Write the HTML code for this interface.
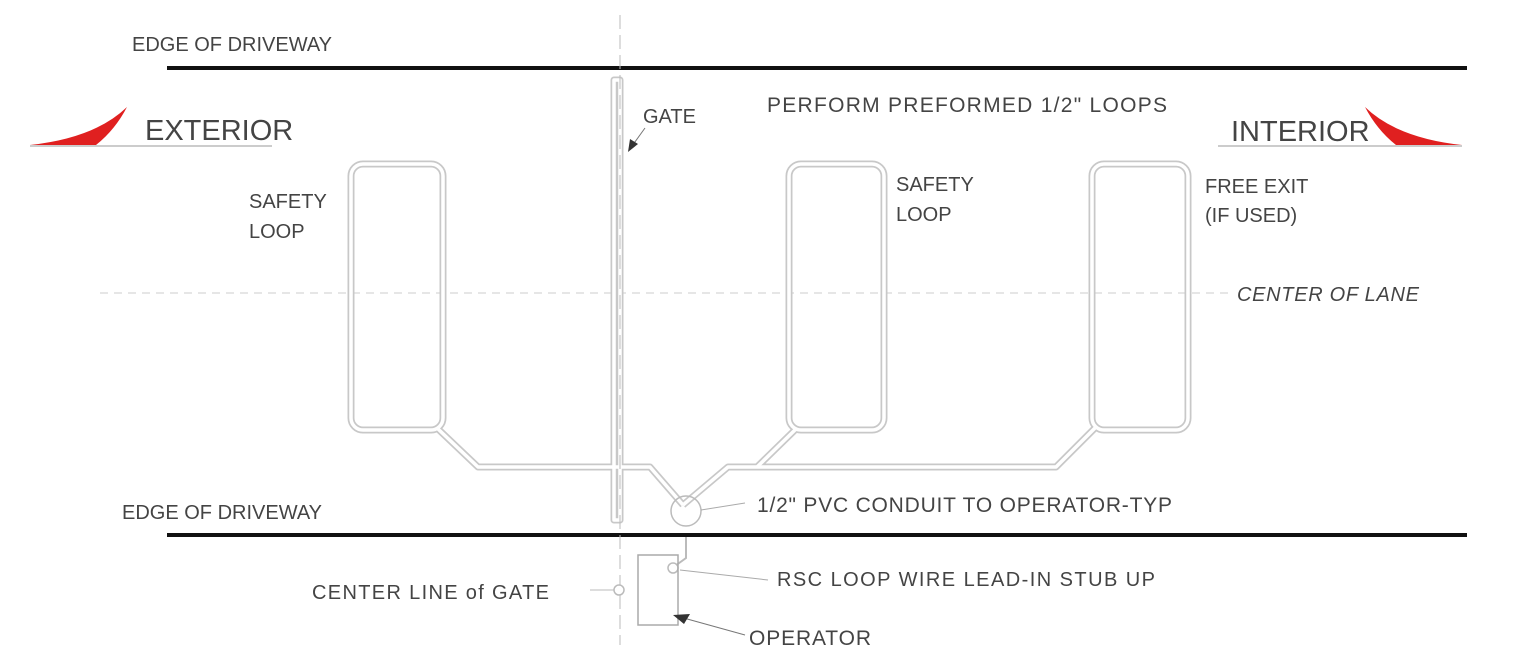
<!DOCTYPE html>
<html><head><meta charset="utf-8"><style>
html,body{margin:0;padding:0;background:#fff;}
svg{display:block;}
text{font-family:"Liberation Sans",sans-serif;fill:#444;}
</style></head><body>
<svg width="1534" height="660" viewBox="0 0 1534 660" xmlns="http://www.w3.org/2000/svg">
<line x1="620" y1="15" x2="620" y2="645" stroke="#bbb" stroke-width="1" stroke-dasharray="14,6"/>
<line x1="100" y1="293" x2="1230" y2="293" stroke="#ccc" stroke-width="1" stroke-dasharray="8,6"/>
<line x1="167" y1="68" x2="1467" y2="68" stroke="#111" stroke-width="4"/>
<line x1="167" y1="535" x2="1467" y2="535" stroke="#111" stroke-width="4"/>
<g fill="none" stroke-linejoin="round">
<g stroke="#c8c8c8" stroke-width="7">
<rect x="351" y="164" width="92" height="266" rx="12"/>
<rect x="789" y="164" width="95" height="266" rx="12"/>
<rect x="1092" y="164" width="96" height="266" rx="12"/>
<polyline points="437,428 478,467 650,467 683,505"/>
<polyline points="1095,428 1056,467 728,467 683,505"/>
<polyline points="797,428 757,467"/>
<rect x="614" y="80" width="6" height="440"/>
</g>
<g stroke="#fff" stroke-width="3.5">
<rect x="351" y="164" width="92" height="266" rx="12"/>
<rect x="789" y="164" width="95" height="266" rx="12"/>
<rect x="1092" y="164" width="96" height="266" rx="12"/>
<polyline points="437,428 478,467 650,467 683,505"/>
<polyline points="1095,428 1056,467 728,467 683,505"/>
<polyline points="797,428 757,467"/>
<rect x="614" y="80" width="6" height="440"/>
</g>
</g>
<line x1="620" y1="15" x2="620" y2="645" stroke="#bbb" stroke-width="1" stroke-dasharray="14,6"/>
<circle cx="686" cy="511" r="15" fill="none" stroke="#bbb" stroke-width="1.5"/>
<polyline points="686,537 686,558 675,566" fill="none" stroke="#bbb" stroke-width="2"/>
<circle cx="673" cy="568" r="5" fill="#fff" stroke="#bbb" stroke-width="1.5"/>
<rect x="638" y="555" width="40" height="70" fill="none" stroke="#aaa" stroke-width="1.5"/>
<circle cx="619" cy="590" r="5" fill="#fff" stroke="#bbb" stroke-width="1.5"/>
<line x1="590" y1="590" x2="614" y2="590" stroke="#bbb"/>
<line x1="701" y1="510" x2="745" y2="503" stroke="#aaa"/>
<line x1="680" y1="570" x2="768" y2="580" stroke="#aaa"/>
<line x1="745" y1="635" x2="680" y2="617" stroke="#777"/>
<polygon points="673,615 690,614 684,624" fill="#333"/>
<line x1="645" y1="128" x2="632" y2="146" stroke="#777"/>
<polygon points="628,152 630,139 638,144" fill="#333"/>
<path d="M30,145 Q95,138 127,107 Q115,130 96,145 Z" fill="#e02020"/>
<path d="M1462,145 Q1397,138 1365,107 Q1377,130 1396,145 Z" fill="#e02020"/>
<line x1="30" y1="146" x2="272" y2="146" stroke="#ccc" stroke-width="2"/>
<line x1="1218" y1="146" x2="1462" y2="146" stroke="#ccc" stroke-width="2"/>
<text x="132" y="51" font-size="20">EDGE OF DRIVEWAY</text>
<text x="122" y="519" font-size="20">EDGE OF DRIVEWAY</text>
<text x="145" y="140" font-size="29">EXTERIOR</text>
<text x="1231" y="141" font-size="29">INTERIOR</text>
<text x="643" y="123" font-size="20">GATE</text>
<text x="767" y="112" font-size="21" textLength="400" lengthAdjust="spacing">PERFORM PREFORMED  1/2"  LOOPS</text>
<text x="249" y="208" font-size="20">SAFETY</text>
<text x="249" y="238" font-size="20">LOOP</text>
<text x="896" y="191" font-size="20">SAFETY</text>
<text x="896" y="221" font-size="20">LOOP</text>
<text x="1205" y="193" font-size="20">FREE EXIT</text>
<text x="1205" y="222" font-size="20">(IF USED)</text>
<text x="1237" y="301" font-size="20" font-style="italic" textLength="182" lengthAdjust="spacing">CENTER OF LANE</text>
<text x="757" y="512" font-size="21" textLength="415" lengthAdjust="spacing">1/2" PVC CONDUIT TO OPERATOR-TYP</text>
<text x="777" y="586" font-size="20" textLength="378" lengthAdjust="spacing">RSC LOOP WIRE LEAD-IN STUB UP</text>
<text x="312" y="599" font-size="20" textLength="237" lengthAdjust="spacing">CENTER LINE of GATE</text>
<text x="749" y="645" font-size="21" textLength="122" lengthAdjust="spacing">OPERATOR</text>
</svg>
</body></html>
